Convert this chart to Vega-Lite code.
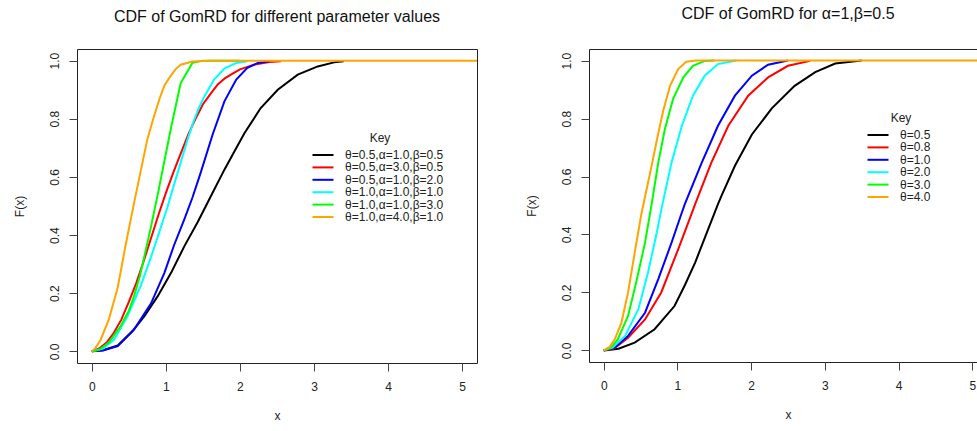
{
  "$schema": "https://vega.github.io/schema/vega-lite/v6.json",
  "background": "white",
  "padding": {"left": 12, "top": 5, "right": 0, "bottom": 0},
  "spacing": 46,
  "resolve": {"scale": {"color": "independent"}, "legend": {"color": "independent"}},
  "config": {
    "font": "Liberation Sans",
    "view": {"stroke": "#222", "strokeWidth": 1},
    "axis": {"grid": false, "domain": false, "ticks": true, "tickColor": "#444", "tickSize": 8, "labelFontSize": 12, "labelColor": "#222", "titleFontSize": 12, "titleFontWeight": "normal", "titleColor": "#222", "labelFont": "Liberation Sans", "titleFont": "Liberation Sans"},
    "title": {"fontSize": 16, "fontWeight": "normal", "font": "Liberation Sans", "color": "#111"},
    "legend": {"titleFontSize": 12, "titleFontWeight": "normal", "titleFont": "Liberation Sans", "titleColor": "#222", "labelFont": "Liberation Sans", "labelFontSize": 12, "labelColor": "#222", "symbolType": "M-3,0H3", "symbolSize": 49, "symbolStrokeWidth": 2, "labelOffset": 16, "rowPadding": 0.4, "titlePadding": 4, "padding": 0, "titleAnchor": "middle", "labelLimit": 300}
  },
  "datasets": {
    "left": [
      {"k": "θ=0.5,α=1.0,β=0.5", "x": 0, "F": 0},
      {"k": "θ=0.5,α=1.0,β=0.5", "x": 0.15, "F": 0.004},
      {"k": "θ=0.5,α=1.0,β=0.5", "x": 0.35, "F": 0.02},
      {"k": "θ=0.5,α=1.0,β=0.5", "x": 0.55, "F": 0.07},
      {"k": "θ=0.5,α=1.0,β=0.5", "x": 0.71, "F": 0.121},
      {"k": "θ=0.5,α=1.0,β=0.5", "x": 0.89, "F": 0.19},
      {"k": "θ=0.5,α=1.0,β=0.5", "x": 1.07, "F": 0.27},
      {"k": "θ=0.5,α=1.0,β=0.5", "x": 1.25, "F": 0.362},
      {"k": "θ=0.5,α=1.0,β=0.5", "x": 1.43, "F": 0.445},
      {"k": "θ=0.5,α=1.0,β=0.5", "x": 1.54, "F": 0.5},
      {"k": "θ=0.5,α=1.0,β=0.5", "x": 1.61, "F": 0.535},
      {"k": "θ=0.5,α=1.0,β=0.5", "x": 1.79, "F": 0.625},
      {"k": "θ=0.5,α=1.0,β=0.5", "x": 1.93, "F": 0.69},
      {"k": "θ=0.5,α=1.0,β=0.5", "x": 2.06, "F": 0.75},
      {"k": "θ=0.5,α=1.0,β=0.5", "x": 2.28, "F": 0.837},
      {"k": "θ=0.5,α=1.0,β=0.5", "x": 2.51, "F": 0.9},
      {"k": "θ=0.5,α=1.0,β=0.5", "x": 2.78, "F": 0.952},
      {"k": "θ=0.5,α=1.0,β=0.5", "x": 3.05, "F": 0.98},
      {"k": "θ=0.5,α=1.0,β=0.5", "x": 3.27, "F": 0.994},
      {"k": "θ=0.5,α=1.0,β=0.5", "x": 3.4, "F": 0.998},
      {"k": "θ=0.5,α=3.0,β=0.5", "x": 0, "F": 0},
      {"k": "θ=0.5,α=3.0,β=0.5", "x": 0.1, "F": 0.01},
      {"k": "θ=0.5,α=3.0,β=0.5", "x": 0.2, "F": 0.03},
      {"k": "θ=0.5,α=3.0,β=0.5", "x": 0.3, "F": 0.065},
      {"k": "θ=0.5,α=3.0,β=0.5", "x": 0.4, "F": 0.11},
      {"k": "θ=0.5,α=3.0,β=0.5", "x": 0.5, "F": 0.17},
      {"k": "θ=0.5,α=3.0,β=0.5", "x": 0.6, "F": 0.235},
      {"k": "θ=0.5,α=3.0,β=0.5", "x": 0.7, "F": 0.31},
      {"k": "θ=0.5,α=3.0,β=0.5", "x": 0.8, "F": 0.39},
      {"k": "θ=0.5,α=3.0,β=0.5", "x": 0.9, "F": 0.47},
      {"k": "θ=0.5,α=3.0,β=0.5", "x": 1.0, "F": 0.545},
      {"k": "θ=0.5,α=3.0,β=0.5", "x": 1.1, "F": 0.615},
      {"k": "θ=0.5,α=3.0,β=0.5", "x": 1.2, "F": 0.68},
      {"k": "θ=0.5,α=3.0,β=0.5", "x": 1.3, "F": 0.745},
      {"k": "θ=0.5,α=3.0,β=0.5", "x": 1.4, "F": 0.8},
      {"k": "θ=0.5,α=3.0,β=0.5", "x": 1.5, "F": 0.85},
      {"k": "θ=0.5,α=3.0,β=0.5", "x": 1.6, "F": 0.885},
      {"k": "θ=0.5,α=3.0,β=0.5", "x": 1.7, "F": 0.918},
      {"k": "θ=0.5,α=3.0,β=0.5", "x": 1.8, "F": 0.94},
      {"k": "θ=0.5,α=3.0,β=0.5", "x": 1.9, "F": 0.955},
      {"k": "θ=0.5,α=3.0,β=0.5", "x": 2.0, "F": 0.97},
      {"k": "θ=0.5,α=3.0,β=0.5", "x": 2.2, "F": 0.987},
      {"k": "θ=0.5,α=3.0,β=0.5", "x": 2.4, "F": 0.995},
      {"k": "θ=0.5,α=3.0,β=0.5", "x": 2.55, "F": 0.998},
      {"k": "θ=0.5,α=1.0,β=2.0", "x": 0, "F": 0},
      {"k": "θ=0.5,α=1.0,β=2.0", "x": 0.15, "F": 0.003},
      {"k": "θ=0.5,α=1.0,β=2.0", "x": 0.35, "F": 0.018},
      {"k": "θ=0.5,α=1.0,β=2.0", "x": 0.57, "F": 0.075},
      {"k": "θ=0.5,α=1.0,β=2.0", "x": 0.8, "F": 0.165},
      {"k": "θ=0.5,α=1.0,β=2.0", "x": 0.98, "F": 0.27},
      {"k": "θ=0.5,α=1.0,β=2.0", "x": 1.11, "F": 0.365},
      {"k": "θ=0.5,α=1.0,β=2.0", "x": 1.25, "F": 0.455},
      {"k": "θ=0.5,α=1.0,β=2.0", "x": 1.36, "F": 0.53},
      {"k": "θ=0.5,α=1.0,β=2.0", "x": 1.47, "F": 0.615},
      {"k": "θ=0.5,α=1.0,β=2.0", "x": 1.63, "F": 0.745},
      {"k": "θ=0.5,α=1.0,β=2.0", "x": 1.79, "F": 0.86},
      {"k": "θ=0.5,α=1.0,β=2.0", "x": 1.95, "F": 0.935},
      {"k": "θ=0.5,α=1.0,β=2.0", "x": 2.1, "F": 0.975},
      {"k": "θ=0.5,α=1.0,β=2.0", "x": 2.24, "F": 0.992},
      {"k": "θ=0.5,α=1.0,β=2.0", "x": 2.4, "F": 0.998},
      {"k": "θ=1.0,α=1.0,β=1.0", "x": 0, "F": 0},
      {"k": "θ=1.0,α=1.0,β=1.0", "x": 0.15, "F": 0.01},
      {"k": "θ=1.0,α=1.0,β=1.0", "x": 0.3, "F": 0.04},
      {"k": "θ=1.0,α=1.0,β=1.0", "x": 0.48, "F": 0.12},
      {"k": "θ=1.0,α=1.0,β=1.0", "x": 0.66, "F": 0.225},
      {"k": "θ=1.0,α=1.0,β=1.0", "x": 0.8, "F": 0.325},
      {"k": "θ=1.0,α=1.0,β=1.0", "x": 0.93, "F": 0.425},
      {"k": "θ=1.0,α=1.0,β=1.0", "x": 1.02, "F": 0.495},
      {"k": "θ=1.0,α=1.0,β=1.0", "x": 1.1, "F": 0.565},
      {"k": "θ=1.0,α=1.0,β=1.0", "x": 1.2, "F": 0.65},
      {"k": "θ=1.0,α=1.0,β=1.0", "x": 1.3, "F": 0.735},
      {"k": "θ=1.0,α=1.0,β=1.0", "x": 1.38, "F": 0.795},
      {"k": "θ=1.0,α=1.0,β=1.0", "x": 1.45, "F": 0.84},
      {"k": "θ=1.0,α=1.0,β=1.0", "x": 1.52, "F": 0.877},
      {"k": "θ=1.0,α=1.0,β=1.0", "x": 1.65, "F": 0.935},
      {"k": "θ=1.0,α=1.0,β=1.0", "x": 1.79, "F": 0.973},
      {"k": "θ=1.0,α=1.0,β=1.0", "x": 1.95, "F": 0.992},
      {"k": "θ=1.0,α=1.0,β=1.0", "x": 2.1, "F": 0.998},
      {"k": "θ=1.0,α=1.0,β=3.0", "x": 0, "F": 0},
      {"k": "θ=1.0,α=1.0,β=3.0", "x": 0.1, "F": 0.005},
      {"k": "θ=1.0,α=1.0,β=3.0", "x": 0.23, "F": 0.03},
      {"k": "θ=1.0,α=1.0,β=3.0", "x": 0.39, "F": 0.087},
      {"k": "θ=1.0,α=1.0,β=3.0", "x": 0.5, "F": 0.14},
      {"k": "θ=1.0,α=1.0,β=3.0", "x": 0.57, "F": 0.19},
      {"k": "θ=1.0,α=1.0,β=3.0", "x": 0.65, "F": 0.26},
      {"k": "θ=1.0,α=1.0,β=3.0", "x": 0.73, "F": 0.35},
      {"k": "θ=1.0,α=1.0,β=3.0", "x": 0.8, "F": 0.43},
      {"k": "θ=1.0,α=1.0,β=3.0", "x": 0.89, "F": 0.54},
      {"k": "θ=1.0,α=1.0,β=3.0", "x": 0.98, "F": 0.655},
      {"k": "θ=1.0,α=1.0,β=3.0", "x": 1.07, "F": 0.77},
      {"k": "θ=1.0,α=1.0,β=3.0", "x": 1.2, "F": 0.923},
      {"k": "θ=1.0,α=1.0,β=3.0", "x": 1.36, "F": 0.993},
      {"k": "θ=1.0,α=1.0,β=3.0", "x": 1.5, "F": 1.0},
      {"k": "θ=1.0,α=1.0,β=3.0", "x": 2.0, "F": 1.0},
      {"k": "θ=1.0,α=4.0,β=1.0", "x": 0, "F": 0},
      {"k": "θ=1.0,α=4.0,β=1.0", "x": 0.05, "F": 0.012},
      {"k": "θ=1.0,α=4.0,β=1.0", "x": 0.12, "F": 0.04},
      {"k": "θ=1.0,α=4.0,β=1.0", "x": 0.23, "F": 0.11},
      {"k": "θ=1.0,α=4.0,β=1.0", "x": 0.35, "F": 0.22},
      {"k": "θ=1.0,α=4.0,β=1.0", "x": 0.46, "F": 0.37},
      {"k": "θ=1.0,α=4.0,β=1.0", "x": 0.57, "F": 0.51},
      {"k": "θ=1.0,α=4.0,β=1.0", "x": 0.66, "F": 0.62},
      {"k": "θ=1.0,α=4.0,β=1.0", "x": 0.75, "F": 0.73},
      {"k": "θ=1.0,α=4.0,β=1.0", "x": 0.83, "F": 0.8},
      {"k": "θ=1.0,α=4.0,β=1.0", "x": 0.91, "F": 0.866},
      {"k": "θ=1.0,α=4.0,β=1.0", "x": 0.98, "F": 0.915},
      {"k": "θ=1.0,α=4.0,β=1.0", "x": 1.06, "F": 0.946},
      {"k": "θ=1.0,α=4.0,β=1.0", "x": 1.13, "F": 0.97},
      {"k": "θ=1.0,α=4.0,β=1.0", "x": 1.2, "F": 0.986},
      {"k": "θ=1.0,α=4.0,β=1.0", "x": 1.36, "F": 0.997},
      {"k": "θ=1.0,α=4.0,β=1.0", "x": 1.6, "F": 1.0},
      {"k": "θ=1.0,α=4.0,β=1.0", "x": 5.3, "F": 1.0}
    ],
    "right": [
      {"k": "θ=0.5", "x": 0, "F": 0},
      {"k": "θ=0.5", "x": 0.2, "F": 0.006},
      {"k": "θ=0.5", "x": 0.42, "F": 0.027},
      {"k": "θ=0.5", "x": 0.69, "F": 0.073},
      {"k": "θ=0.5", "x": 0.96, "F": 0.153},
      {"k": "θ=0.5", "x": 1.1, "F": 0.225},
      {"k": "θ=0.5", "x": 1.24, "F": 0.303},
      {"k": "θ=0.5", "x": 1.42, "F": 0.42},
      {"k": "θ=0.5", "x": 1.55, "F": 0.505},
      {"k": "θ=0.5", "x": 1.6, "F": 0.535},
      {"k": "θ=0.5", "x": 1.78, "F": 0.637},
      {"k": "θ=0.5", "x": 2.01, "F": 0.745},
      {"k": "θ=0.5", "x": 2.28, "F": 0.835},
      {"k": "θ=0.5", "x": 2.59, "F": 0.913},
      {"k": "θ=0.5", "x": 2.87, "F": 0.96},
      {"k": "θ=0.5", "x": 3.14, "F": 0.99},
      {"k": "θ=0.5", "x": 3.5, "F": 1.0},
      {"k": "θ=0.8", "x": 0, "F": 0},
      {"k": "θ=0.8", "x": 0.15, "F": 0.008},
      {"k": "θ=0.8", "x": 0.33, "F": 0.044},
      {"k": "θ=0.8", "x": 0.56, "F": 0.107},
      {"k": "θ=0.8", "x": 0.78, "F": 0.2},
      {"k": "θ=0.8", "x": 1.01, "F": 0.349},
      {"k": "θ=0.8", "x": 1.19, "F": 0.47},
      {"k": "θ=0.8", "x": 1.24, "F": 0.505},
      {"k": "θ=0.8", "x": 1.46, "F": 0.648},
      {"k": "θ=0.8", "x": 1.69, "F": 0.775},
      {"k": "θ=0.8", "x": 1.96, "F": 0.879},
      {"k": "θ=0.8", "x": 2.23, "F": 0.942},
      {"k": "θ=0.8", "x": 2.5, "F": 0.982},
      {"k": "θ=0.8", "x": 2.8, "F": 0.999},
      {"k": "θ=1.0", "x": 0, "F": 0},
      {"k": "θ=1.0", "x": 0.15, "F": 0.01},
      {"k": "θ=1.0", "x": 0.33, "F": 0.05},
      {"k": "θ=1.0", "x": 0.56, "F": 0.13},
      {"k": "θ=1.0", "x": 0.74, "F": 0.246},
      {"k": "θ=1.0", "x": 0.92, "F": 0.372},
      {"k": "θ=1.0", "x": 1.06, "F": 0.476},
      {"k": "θ=1.0", "x": 1.1, "F": 0.505},
      {"k": "θ=1.0", "x": 1.33, "F": 0.648},
      {"k": "θ=1.0", "x": 1.55, "F": 0.775},
      {"k": "θ=1.0", "x": 1.78, "F": 0.879},
      {"k": "θ=1.0", "x": 2.01, "F": 0.948},
      {"k": "θ=1.0", "x": 2.23, "F": 0.986},
      {"k": "θ=1.0", "x": 2.5, "F": 1.0},
      {"k": "θ=2.0", "x": 0, "F": 0},
      {"k": "θ=2.0", "x": 0.12, "F": 0.01},
      {"k": "θ=2.0", "x": 0.29, "F": 0.05},
      {"k": "θ=2.0", "x": 0.47, "F": 0.142},
      {"k": "θ=2.0", "x": 0.6, "F": 0.268},
      {"k": "θ=2.0", "x": 0.72, "F": 0.407},
      {"k": "θ=2.0", "x": 0.78, "F": 0.485},
      {"k": "θ=2.0", "x": 0.92, "F": 0.648},
      {"k": "θ=2.0", "x": 1.06, "F": 0.775},
      {"k": "θ=2.0", "x": 1.21, "F": 0.879},
      {"k": "θ=2.0", "x": 1.37, "F": 0.948},
      {"k": "θ=2.0", "x": 1.55, "F": 0.988},
      {"k": "θ=2.0", "x": 1.8, "F": 1.0},
      {"k": "θ=3.0", "x": 0, "F": 0},
      {"k": "θ=3.0", "x": 0.1, "F": 0.01},
      {"k": "θ=3.0", "x": 0.19, "F": 0.038},
      {"k": "θ=3.0", "x": 0.33, "F": 0.119},
      {"k": "θ=3.0", "x": 0.44, "F": 0.234},
      {"k": "θ=3.0", "x": 0.56, "F": 0.372},
      {"k": "θ=3.0", "x": 0.65, "F": 0.505},
      {"k": "θ=3.0", "x": 0.74, "F": 0.648},
      {"k": "θ=3.0", "x": 0.83, "F": 0.764},
      {"k": "θ=3.0", "x": 0.94, "F": 0.867},
      {"k": "θ=3.0", "x": 1.08, "F": 0.942},
      {"k": "θ=3.0", "x": 1.21, "F": 0.982},
      {"k": "θ=3.0", "x": 1.37, "F": 0.999},
      {"k": "θ=3.0", "x": 1.5, "F": 1.0},
      {"k": "θ=4.0", "x": 0, "F": 0},
      {"k": "θ=4.0", "x": 0.08, "F": 0.012},
      {"k": "θ=4.0", "x": 0.15, "F": 0.038},
      {"k": "θ=4.0", "x": 0.24, "F": 0.096},
      {"k": "θ=4.0", "x": 0.33, "F": 0.2},
      {"k": "θ=4.0", "x": 0.42, "F": 0.337},
      {"k": "θ=4.0", "x": 0.51, "F": 0.47},
      {"k": "θ=4.0", "x": 0.56, "F": 0.53},
      {"k": "θ=4.0", "x": 0.65, "F": 0.637},
      {"k": "θ=4.0", "x": 0.72, "F": 0.725},
      {"k": "θ=4.0", "x": 0.81, "F": 0.83},
      {"k": "θ=4.0", "x": 0.9, "F": 0.913},
      {"k": "θ=4.0", "x": 1.01, "F": 0.971},
      {"k": "θ=4.0", "x": 1.12, "F": 0.996},
      {"k": "θ=4.0", "x": 1.25, "F": 1.0},
      {"k": "θ=4.0", "x": 5.3, "F": 1.0}
    ]
  },
  "hconcat": [
    {
      "width": 400,
      "height": 314,
      "title": {"text": "CDF of GomRD for different parameter values", "offset": 24},
      "data": {"name": "left"},
      "mark": {"type": "line", "strokeWidth": 2, "clip": true},
      "encoding": {
        "x": {"field": "x", "type": "quantitative", "scale": {"domain": [-0.2, 5.2], "nice": false, "zero": false}, "axis": {"values": [0, 1, 2, 3, 4, 5], "title": "x", "labelPadding": 10, "titlePadding": 18}},
        "y": {"field": "F", "type": "quantitative", "scale": {"domain": [-0.04, 1.04], "nice": false, "zero": false}, "axis": {"values": [0, 0.2, 0.4, 0.6, 0.8, 1], "format": ".1f", "labelAngle": -90, "labelAlign": "center", "labelBaseline": "bottom", "labelPadding": 8, "title": "F(x)", "titlePadding": 22}},
        "color": {
          "field": "k", "type": "nominal",
          "scale": {"domain": ["θ=0.5,α=1.0,β=0.5", "θ=0.5,α=3.0,β=0.5", "θ=0.5,α=1.0,β=2.0", "θ=1.0,α=1.0,β=1.0", "θ=1.0,α=1.0,β=3.0", "θ=1.0,α=4.0,β=1.0"], "range": ["#000000", "#FF0000", "#0000FF", "#00FFFF", "#00FF00", "#FFA500"]},
          "legend": {"title": "Key", "orient": "none", "legendX": 240, "legendY": 84}
        }
      }
    },
    {
      "width": 398,
      "height": 313,
      "title": {"text": "CDF of GomRD for α=1,β=0.5", "offset": 27},
      "data": {"name": "right"},
      "mark": {"type": "line", "strokeWidth": 2, "clip": true},
      "encoding": {
        "x": {"field": "x", "type": "quantitative", "scale": {"domain": [-0.2, 5.2], "nice": false, "zero": false}, "axis": {"values": [0, 1, 2, 3, 4, 5], "title": "x", "labelPadding": 10, "titlePadding": 18}},
        "y": {"field": "F", "type": "quantitative", "scale": {"domain": [-0.04, 1.04], "nice": false, "zero": false}, "axis": {"values": [0, 0.2, 0.4, 0.6, 0.8, 1], "format": ".1f", "labelAngle": -90, "labelAlign": "center", "labelBaseline": "bottom", "labelPadding": 8, "title": "F(x)", "titlePadding": 22}},
        "color": {
          "field": "k", "type": "nominal",
          "scale": {"domain": ["θ=0.5", "θ=0.8", "θ=1.0", "θ=2.0", "θ=3.0", "θ=4.0"], "range": ["#000000", "#FF0000", "#0000FF", "#00FFFF", "#00FF00", "#FFA500"]},
          "legend": {"title": "Key", "orient": "none", "legendX": 283, "legendY": 64}
        }
      }
    }
  ]
}
